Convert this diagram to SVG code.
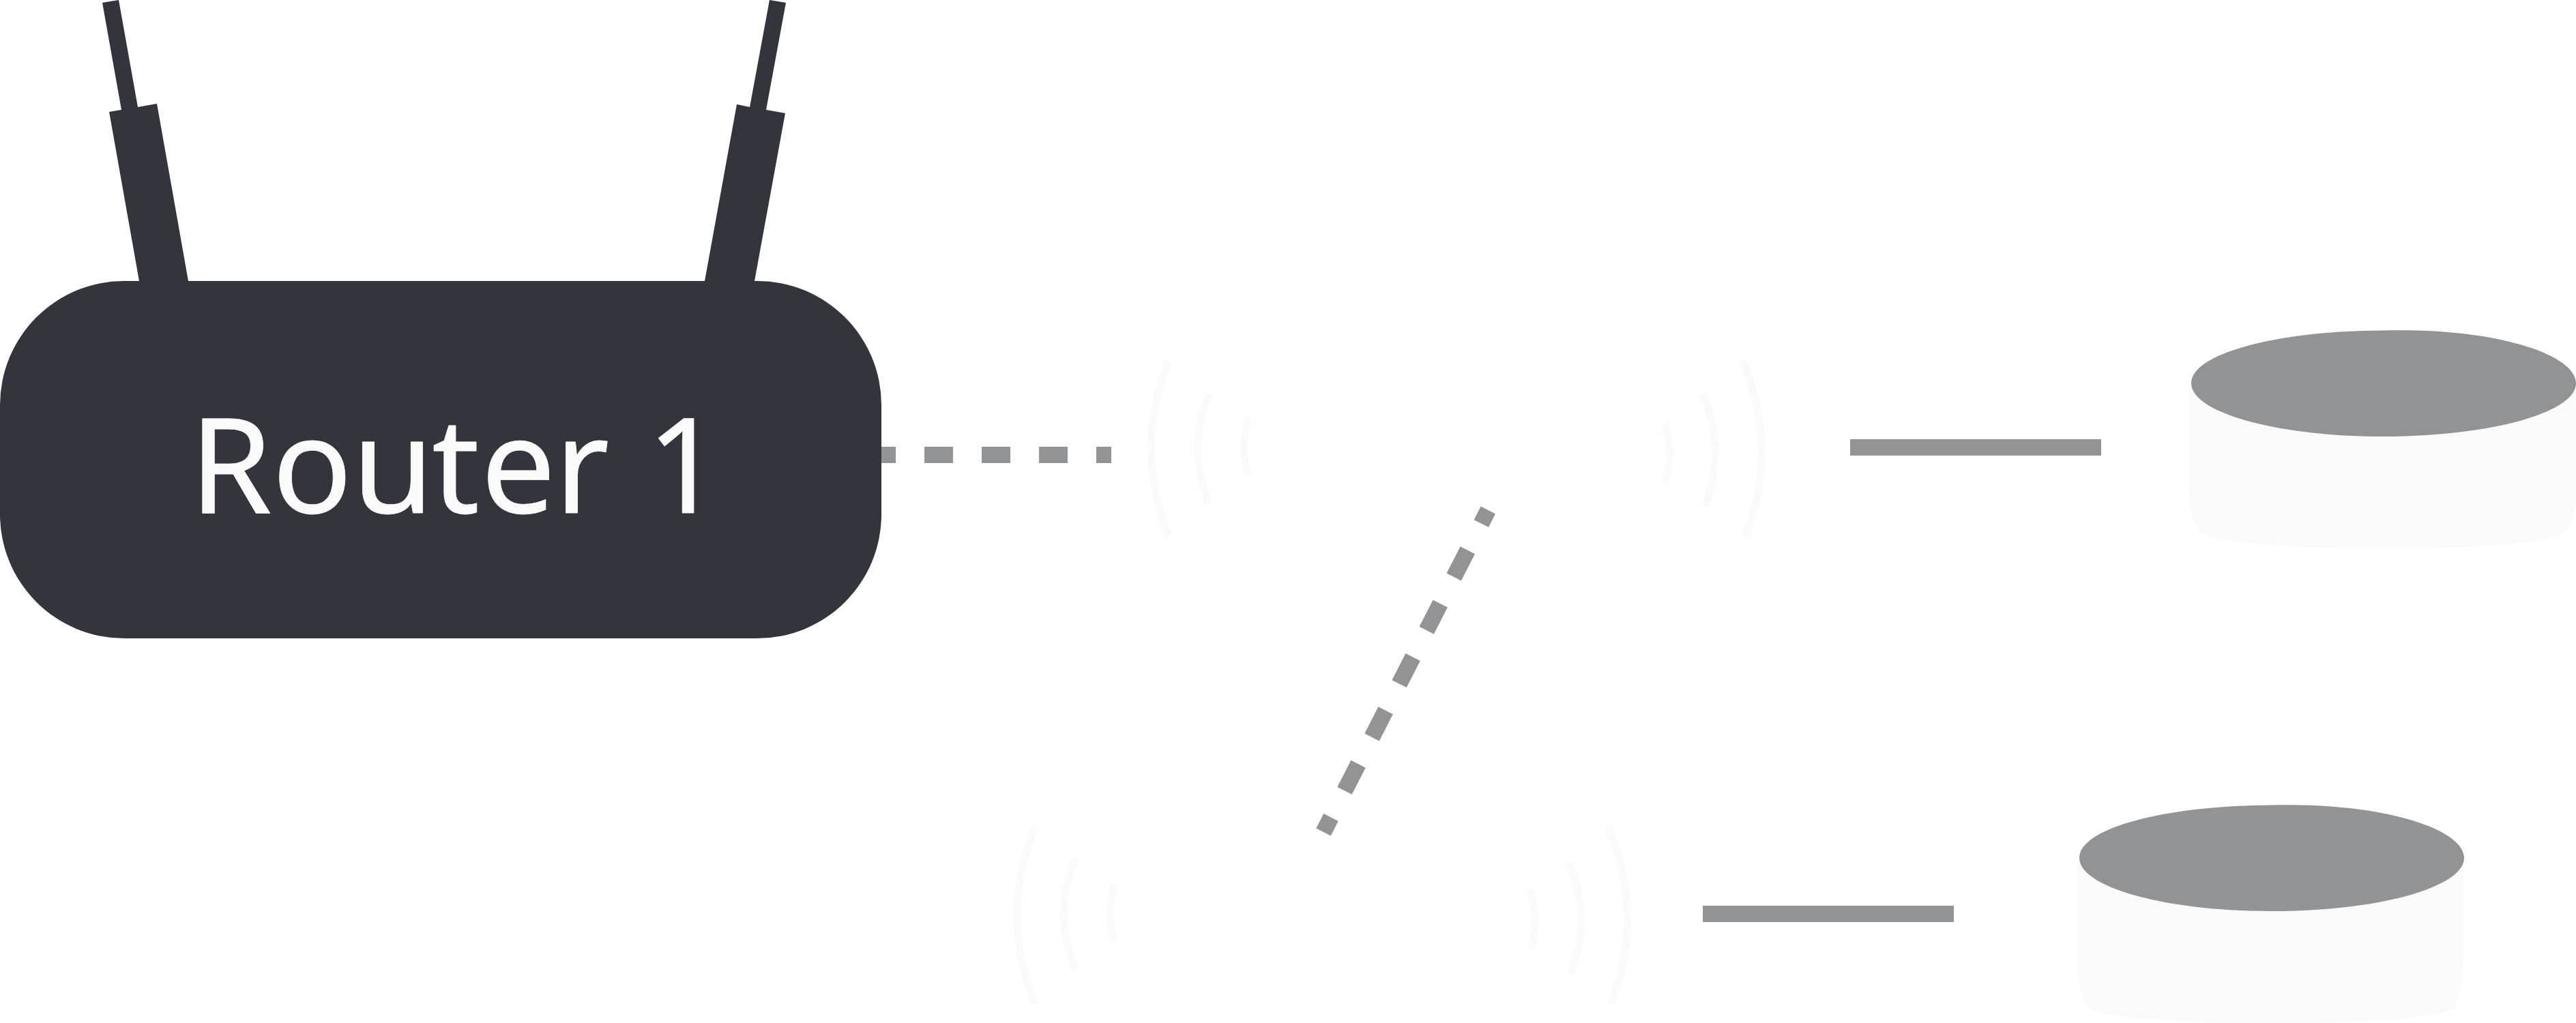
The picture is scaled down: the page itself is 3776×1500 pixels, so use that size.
<svg xmlns="http://www.w3.org/2000/svg" width="3776" height="1500" viewBox="0 0 3776 1500">
<style>
.body{fill:#32353c}
.top{fill:#929394}
.base{fill:#fafafa}
.arc{fill:none;stroke:#fafafa;stroke-width:11}
.link{fill:none;stroke:#929394;stroke-width:24}
.dash{stroke-dasharray:42 42}
text{font-family:"Noto Sans","Open Sans",sans-serif;font-size:194px;fill:#fafafa;stroke:#fafafa;stroke-width:0.8;stroke-linejoin:round}
</style>
<rect width="3776" height="1500" fill="#ffffff"/>
<g id="connectors">
<line class="link dash" x1="1271" y1="667" x2="1629" y2="667"/>
<line class="link" x1="2181.3" y1="748" x2="1940" y2="1220" style="stroke-dasharray:44 44;stroke-dashoffset:22"/>
<line class="link" x1="2712" y1="656" x2="3080" y2="656"/>
<line class="link" x1="2496" y1="1340" x2="2864" y2="1340"/>
</g>
<g id="router-1">
<polygon class="body" points="150,4 174,0 202,157 230,152 276,412 204,412 160,164 178,161"/>
<polygon class="body" points="1128,0 1152,4 1123,161 1151,166 1106,412 1033,412 1080,153 1099,157"/>
<rect class="body" x="0" y="412" width="1292" height="524" rx="182" ry="182"/>
<text x="278 399 516 633 705 813 893 948" y="752">Router 1</text>
</g>
<g id="wireless-1">
<path class="arc" d="M1713,531Q1662,653 1713,787"/>
<path class="arc" d="M1773,577Q1738,657 1772,738"/>
<path class="arc" d="M1830,613Q1818,655 1830,697"/>
<path class="arc" d="M2555,531Q2608,660 2558,787"/>
<path class="arc" d="M2496,579Q2531,660 2499,742"/>
<path class="arc" d="M2440,622Q2454,663 2441,707"/>
</g>
<g id="wireless-2">
<path class="arc" d="M1517,1214Q1465,1340 1517,1472"/>
<path class="arc" d="M1576,1260Q1543,1340 1576,1422"/>
<path class="arc" d="M1634,1296Q1620,1340 1634,1381"/>
<path class="arc" d="M2358,1214Q2411,1343 2362,1471"/>
<path class="arc" d="M2299,1264Q2335,1346 2302,1426"/>
<path class="arc" d="M2243,1306Q2257,1347 2245,1391"/>
</g>
<g id="cylinder-1">
<path class="base" d="M3208,570L3208,700C3208,745 3215,770 3226,780C3240,795 3350,804 3492,804C3640,804 3745,795 3759,780C3770,770 3778,740 3778,700L3778,570Z"/>
<path class="top" d="M3212,562C3212,518 3339,485 3494,484.5C3655,480 3776,519 3776,562C3776,605 3650,640 3494,640C3338,640 3212,605 3212,562Z"/>
</g>
<g id="cylinder-2">
<path class="base" d="M3044,1266L3044,1390C3044,1435 3050,1467 3062,1478C3080,1492 3190,1500 3330,1500C3470,1500 3580,1492 3595,1478C3606,1467 3611,1435 3611,1390L3611,1266Z"/>
<path class="top" d="M3048,1258C3048,1214 3174,1181 3330,1180.5C3491,1176 3612,1215 3612,1258C3612,1301 3486,1336 3330,1336C3174,1336 3048,1301 3048,1258Z"/>
</g>
</svg>
